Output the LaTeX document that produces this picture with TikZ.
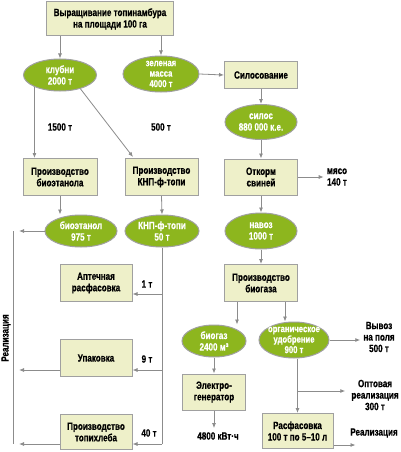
\documentclass[tikz,border=0pt]{standalone}
\usepackage{fontspec}
\setmainfont{Liberation Sans}[FakeStretch=0.77, BoldFeatures={FakeStretch=0.77, FakeBold=0.6}]
\usetikzlibrary{arrows.meta,shapes.geometric}
\definecolor{boxfill}{RGB}{238,240,201}
\definecolor{boxline}{RGB}{160,160,160}
\definecolor{ovalfill}{RGB}{141,182,30}
\definecolor{linegray}{RGB}{140,140,140}
\begin{document}
\begin{tikzpicture}[x=1pt,y=-1pt,
  base/.style={font=\fontsize{10.5}{11.5}\selectfont\bfseries, align=center, inner sep=0pt},
  box/.style={base, rectangle, draw=boxline, fill=boxfill, line width=1pt},
  oval/.style={base, ellipse, draw=boxline, fill=ovalfill, line width=1pt, text=white, inner xsep=-8pt, inner ysep=-6pt},
  tight/.style={font=\fontsize{10}{10.5}\selectfont\bfseries},
  lbl/.style={base},
  conn/.style={draw=linegray, line width=0.8pt, -{Latex[length=5pt,width=4pt]}},
  plain/.style={draw=linegray, line width=0.8pt}]
\fill[white] (0,0) rectangle (400,452);
\useasboundingbox (0,0) rectangle (400,452);

% boxes
\node[box, minimum width=127pt, minimum height=34pt] (top) at (110,19) {Выращивание топинамбура\\на площади 100 га};
\node[box, minimum width=73pt, minimum height=26pt] (silo) at (261,75) {Силосование};
\node[box, minimum width=73pt, minimum height=36pt] (otk) at (261,177) {Откорм\\свиней};
\node[box, minimum width=73pt, minimum height=37pt] (biogbox) at (261,283) {Производство\\биогаза};
\node[box, minimum width=63pt, minimum height=36pt] (elec) at (214,392) {Электро-\\генератор};
\node[box, minimum width=71pt, minimum height=35pt] (rasf) at (297.5,431) {Расфасовка\\100 т по 5–10 л};
\node[box, minimum width=74pt, minimum height=37pt] (bioeth) at (60,177) {Производство\\биоэтанола};
\node[box, minimum width=73pt, minimum height=37pt] (knpbox) at (161.5,177) {Производство\\КНП-ф-топи};
\node[box, minimum width=72pt, minimum height=37pt] (apt) at (96,283) {Аптечная\\расфасовка};
\node[box, minimum width=72pt, minimum height=37pt] (upak) at (96,358) {Упаковка};
\node[box, minimum width=72pt, minimum height=35pt] (topi) at (96,432) {Производство\\топихлеба};

% ovals
\node[oval, minimum width=73pt, minimum height=32pt] (klub) at (60,75) {клубни\\2000 т};
\node[oval, tight, minimum width=76pt, minimum height=36pt] (zel) at (161,74) {зеленая\\масса\\4000 т};
\node[oval, minimum width=72pt, minimum height=35pt] (silos) at (261,122) {силос\\880 000 к.е.};
\node[oval, minimum width=72pt, minimum height=36pt] (navoz) at (261,231) {навоз\\1000 т};
\node[oval, minimum width=64pt, minimum height=32pt] (biogaz) at (214,341) {биогаз\\2400 м³};
\node[oval, tight, minimum width=70pt, minimum height=36pt] (udob) at (294,340) {органическое\\удобрение\\900 т};
\node[oval, minimum width=72pt, minimum height=32pt] (bioe) at (81,231) {биоэтанол\\975 т};
\node[oval, minimum width=74pt, minimum height=32pt] (knp) at (162,231) {КНП-ф-топи\\50 т};

% labels
\node[lbl] (myaso) at (337,177) {мясо\\140 т};
\node[lbl] (kwh) at (218,436) {4800 кВт·ч};
\node[lbl] (vyvoz) at (379,337) {Вывоз\\на поля\\500 т};
\node[lbl] (opt) at (375,395) {Оптовая\\реализация\\300 т};
\node[lbl] (real2) at (374,433) {Реализация};
\node[lbl] (t1500) at (60,127) {1500 т};
\node[lbl] (t500) at (161,127) {500 т};
\node[lbl] (t1) at (147,284) {1 т};
\node[lbl] (t9) at (147,359) {9 т};
\node[lbl] (t40) at (149,433) {40 т};
\node[lbl, rotate=90] (realL) at (6,338) {Реализация};

% coordinates
\coordinate (L1) at (13,231);
\coordinate (L2) at (13,444);
\coordinate (Ltip) at (19,0);
\coordinate (a1) at (162,294);
\coordinate (a2) at (162,370);
\coordinate (a3) at (162,444);
\coordinate (bg1) at (237,0);
\coordinate (bg2) at (285,0);
\coordinate (optb) at (298,391);
\coordinate (kdiag) at (133,157);

% connectors right branch
\draw[conn] (top.south -| klub) -- (klub.north);
\draw[conn] (top.south -| zel) -- (zel.north);
\draw[conn] (zel.east) -- (silo.west);
\draw[conn] (silo.south) -- (silos.north);
\draw[conn] (silos.south) -- (otk.north);
\draw[conn] (otk.east) -- ([xshift=-3pt]myaso.west |- otk.east);
\draw[conn] (otk.south) -- (navoz.north);
\draw[conn] (navoz.south) -- (biogbox.north);
\draw[conn] (bg1 |- biogbox.south) -- (bg1 |- biogaz.north);
\draw[conn] (bg2 |- biogbox.south) -- (bg2 |- udob.north);
\draw[conn] (biogaz.south -| elec.north) -- (elec.north);
\draw[conn] (elec.south) -- ([yshift=4pt]elec.south |- kwh.north);
\draw[conn] (udob.east) -- ([xshift=-3pt]vyvoz.west |- udob.east);
\draw[conn] (rasf.north |- udob.south) -- (rasf.north);
\draw[conn] (optb) -- ([xshift=-6pt]optb -| opt.west);
\draw[conn] ([yshift=4pt]rasf.south east) -- ++(22,0);

% connectors left branch
\draw[conn] (klub.205) -- (klub.205 |- bioeth.north);
\draw[conn] (klub.326) -- (kdiag);
\draw[conn] (bioeth.south) -- (bioeth.south |- bioe.north);
\draw[conn] (knpbox.south) -- (knp.north);
\draw[conn] (bioe.west) -- (bioe.west -| Ltip);
\draw[plain] (L1) -- (L2);
\draw[plain] (knp.south) -- (a3);
\draw[conn] (a1) -- (a1 -| apt.east);
\draw[conn] (a2) -- (a2 -| upak.east);
\draw[conn] (a3) -- (a3 -| topi.east);
\draw[conn] (a2 -| upak.west) -- (a2 -| Ltip);
\draw[conn] (a3 -| topi.west) -- (a3 -| Ltip);
\end{tikzpicture}
\end{document}
